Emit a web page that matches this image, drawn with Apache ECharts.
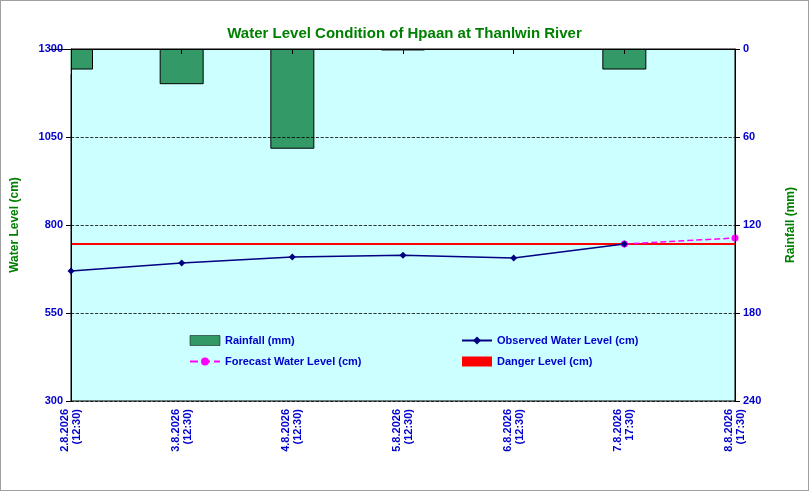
<!DOCTYPE html>
<html>
<head>
<meta charset="utf-8">
<script src="https://cdn.jsdelivr.net/npm/echarts@6/dist/echarts.min.js"></script>
<style>
html,body{margin:0;padding:0;background:#fff;}
#main{width:807px;height:489px;border:1px solid #a0a0a0;}
</style>
</head>
<body>
<div id="main"></div>
<script>
var categories = ['2.8.2026\n(12:30)','3.8.2026\n(12:30)','4.8.2026\n(12:30)','5.8.2026\n(12:30)','6.8.2026\n(12:30)','7.8.2026\n17:30)','8.8.2026\n(17:30)'];
var rainfall = [14, 24, 68, 1, null, 14, null];
var observed = [669, 692, 709, 714, 706, 746, null];
var forecast = [null, null, null, null, null, 746, 763];
var danger = [746, 746, 746, 746, 746, 746, 746];

var myChart = echarts.init(document.getElementById('main'));
var blue = '#0000cc', green = '#008000';
var lblStyle = {color: blue, fontSize: 11, fontWeight: 'bold', fontFamily: 'Liberation Sans'};
var option = {
    backgroundColor: '#ffffff',
    title: {
        text: 'Water Level Condition of Hpaan at Thanlwin River',
        left: 'center', top: 20,
        textStyle: {color: green, fontSize: 15, fontWeight: 'bold', fontFamily: 'Liberation Sans'}
    },
    grid: {left: 70, right: 73, top: 48, bottom: 89, backgroundColor: '#ccffff', show: true, borderColor: '#000', borderWidth: 1},
    // hide the half of the first bar that falls outside the plot
    graphic: [{type: 'rect', left: 40, top: 49, z: 5, shape: {width: 29.5, height: 24}, style: {fill: '#ffffff'}}],
    legend: [{
        data: [{name: 'Rainfall (mm)', icon: 'rect', itemStyle: {borderWidth: 0.5}}, {name: 'Forecast Water Level (cm)'}],
        orient: 'vertical', left: 183, top: 329, itemGap: 10, itemWidth: 30, itemHeight: 10,
        textStyle: lblStyle
    }, {
        data: ['Observed Water Level (cm)', {name: 'Danger Level (cm)', icon: 'rect', itemStyle: {}}],
        orient: 'vertical', left: 455, top: 329, itemGap: 10, itemWidth: 30, itemHeight: 10,
        textStyle: lblStyle
    }],
    xAxis: {
        type: 'category', boundaryGap: false, data: categories, z: 10,
        axisLine: {lineStyle: {color: '#000'}},
        axisTick: {lineStyle: {color: '#000'}},
        axisLabel: Object.assign({rotate: 90, lineHeight: 12, margin: 8}, lblStyle)
    },
    yAxis: [{
        type: 'value', min: 300, max: 1300, interval: 250, z: 10,
        name: 'Water Level (cm)', nameLocation: 'middle', nameGap: 50,
        nameTextStyle: {color: green, fontSize: 12, fontWeight: 'bold', fontFamily: 'Liberation Sans'},
        axisLine: {show: true, lineStyle: {color: '#000'}},
        axisTick: {show: true},
        axisLabel: Object.assign({formatter: function (v) { return String(v); }}, lblStyle),
        splitLine: {lineStyle: {color: '#000', type: 'dashed', width: 0.8}}
    }, {
        type: 'value', min: 0, max: 240, interval: 60, inverse: true, z: 10,
        name: 'Rainfall (mm)', nameLocation: 'middle', nameGap: 50, nameRotate: 90,
        nameTextStyle: {color: green, fontSize: 12, fontWeight: 'bold', fontFamily: 'Liberation Sans'},
        axisLine: {show: true, lineStyle: {color: '#000'}},
        axisTick: {show: true},
        axisLabel: lblStyle,
        splitLine: {show: false}
    }],
    series: [{
        name: 'Rainfall (mm)', type: 'bar', yAxisIndex: 1, data: rainfall, barWidth: 44,
        itemStyle: {color: '#339966', borderColor: '#000', borderWidth: 1}
    }, {
        name: 'Danger Level (cm)', type: 'line', data: danger, symbol: 'none',
        lineStyle: {color: '#ff0000', width: 2}, itemStyle: {color: '#ff0000'}
    }, {
        name: 'Forecast Water Level (cm)', type: 'line', data: forecast, symbol: 'circle', symbolSize: 7,
        lineStyle: {color: '#ff00ff', width: 1.5, type: 'dashed'}, itemStyle: {color: '#ff00ff'}
    }, {
        name: 'Observed Water Level (cm)', type: 'line', data: observed, symbol: 'diamond', symbolSize: 7,
        lineStyle: {color: '#000080', width: 1.5}, itemStyle: {color: '#000080'}
    }]
};
myChart.setOption(option);
</script>
</body>
</html>
